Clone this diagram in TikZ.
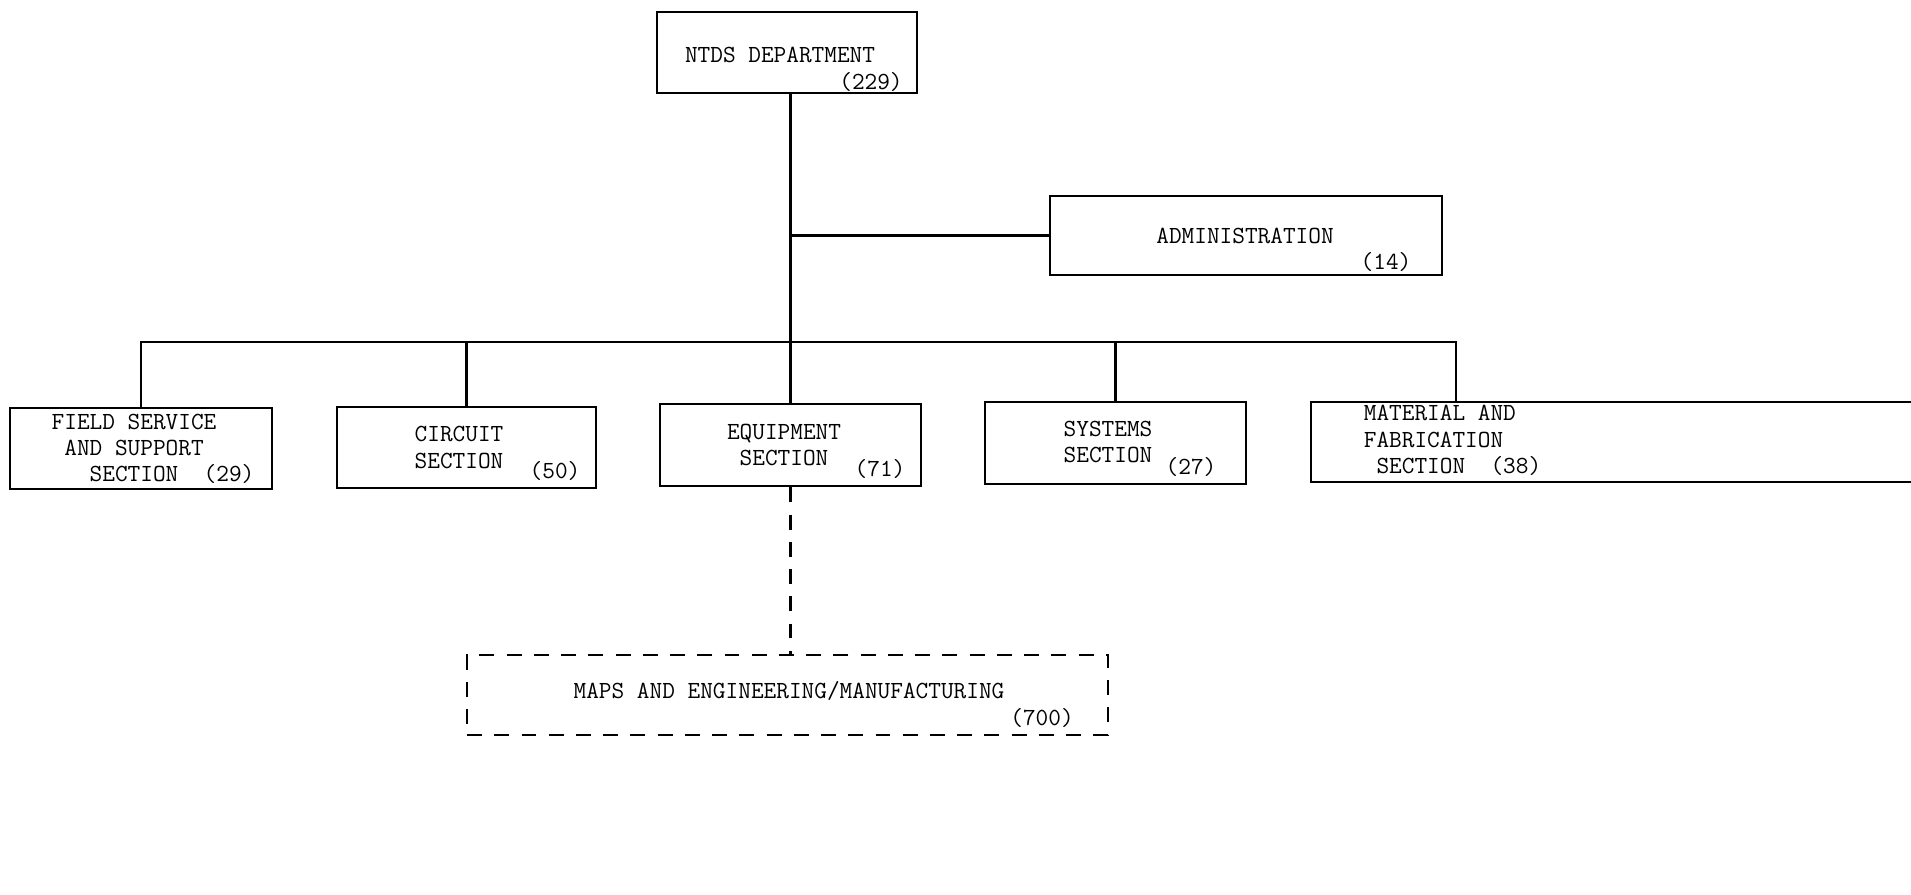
\documentclass[tikz,border=0pt]{standalone}
\usepackage{fontspec}
\usetikzlibrary{positioning}
\tikzset{>=latex}
\tikzset{
  box/.style={draw,line width=1.6pt,inner sep=0pt},
  wire/.style={line width=1.6pt},
  broken/.style={line width=1.6pt,dash pattern=on 8.5pt off 7pt},
  lbl/.style={font=\ttfamily\fontsize{14}{15}\selectfont,inner sep=0pt,align=center},
  lblleft/.style={lbl,align=left},
}

\begin{document}
\begin{tikzpicture}[x=0.02cm,y=-0.02cm]
\useasboundingbox (0,0) rectangle (1911,895);
% boxes
\node [box,minimum width=5.2cm,minimum height=1.62cm] (ntds) at (787,52.5) {};
\node [box,minimum width=7.84cm,minimum height=1.58cm] (admin) at (1246,235.5) {};
\node [box,minimum width=5.24cm,minimum height=1.62cm] (field) at (141,448.5) {};
\node [box,minimum width=5.18cm,minimum height=1.62cm] (circuit) at (466.5,447.5) {};
\node [box,minimum width=5.22cm,minimum height=1.64cm] (equip) at (790.5,445) {};
\node [box,minimum width=5.22cm,minimum height=1.64cm] (systems) at (1115.5,443) {};
\node [box,minimum width=12.58cm,minimum height=1.6cm] (material) at (1625.5,442) {};
\node [box,broken,minimum width=12.82cm,minimum height=1.6cm] (maps) at (787.5,695) {};
% texts
\node [lbl] (ntdstxt) at (780,55) {NTDS DEPARTMENT};
\node [lbl] (ntdsnum) at (871,82) {(229)};
\node [lbl] (admintxt) at (1245,236) {ADMINISTRATION};
\node [lbl] (adminnum) at (1386,262) {(14)};
\node [lblleft] (fieldtxt) at (153,449) {FIELD SERVICE\\\phantom{X}AND SUPPORT\\\phantom{XXX}SECTION\ \ (29)};
\node [lbl] (circuittxt) at (459,447.5) {CIRCUIT\\SECTION};
\node [lbl] (circuitnum) at (555,471) {(50)};
\node [lbl] (equiptxt) at (784,445) {EQUIPMENT\\SECTION};
\node [lbl] (equipnum) at (880,469) {(71)};
\node [lbl] (systemstxt) at (1108,442) {SYSTEMS\\SECTION};
\node [lbl] (systemsnum) at (1191,467) {(27)};
\node [lblleft] (materialtxt) at (1452.5,440.5) {MATERIAL AND\\FABRICATION\\\phantom{X}SECTION\ \ (38)};
\node [lbl] (mapstxt) at (789,691) {MAPS AND ENGINEERING/MANUFACTURING};
\node [lbl] (mapsnum) at (1042,718) {(700)};
% connectors
\coordinate (bus) at (790,342);
\coordinate (mtop) at (1456,402);
\draw [wire] (ntds.south -| equip.north) -- (equip.north);
\draw [wire] (admin.west -| equip.north) -- (admin.west);
\draw [wire] (field.north) -- (field.north |- bus) -- (mtop |- bus) -- (mtop);
\foreach \s in {circuit,systems}
  \draw [wire] (\s.north) -- (\s.north |- bus);
\draw [broken] (equip.south) -- (equip.south |- maps.north);
\end{tikzpicture}
\end{document}
